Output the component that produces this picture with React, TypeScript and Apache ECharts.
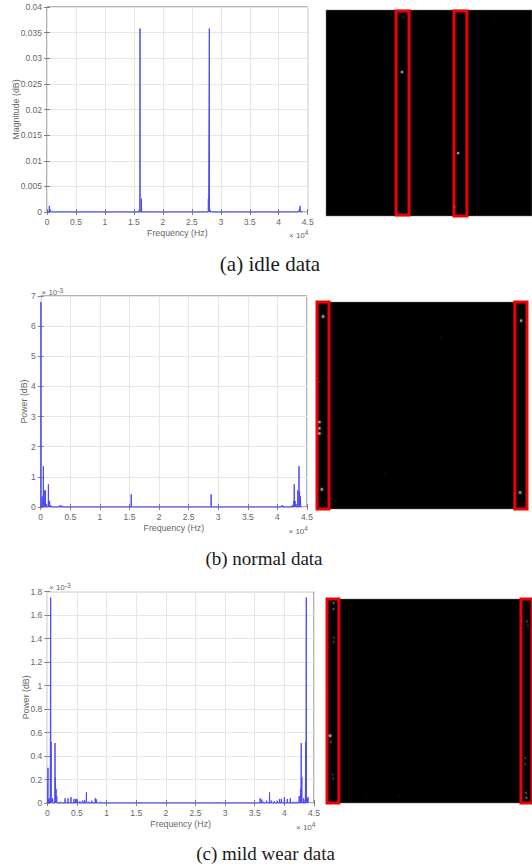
import React, { useEffect, useRef } from "react";
import * as echarts from "echarts";

const idlePeaks = [[400,0.0012],[550,0.0005],[700,0.0002],[1000,0.0001],[15850,0.0003],[16050,0.0358],[16300,0.0026],[27850,0.0026],[28020,0.0358],[28200,0.0003],[43400,0.0002],[43550,0.0005],[43700,0.0012]];
const normalPeaks = [[40,6.8],[250,0.35],[450,1.35],[600,0.55],[800,0.55],[1000,0.1],[1300,0.75],[1400,0.2],[1500,0.2],[1700,0.06],[3200,0.05],[3400,0.05],[3600,0.04],[15300,0.42],[28800,0.42],[40700,0.05],[40900,0.05],[42500,0.06],[42750,0.2],[42850,0.75],[43000,0.2],[43150,0.1],[43450,0.55],[43650,1.35],[43750,0.5],[43900,0.35]];
const wearPeaks = [[120,0.3],[300,0.04],[450,0.03],[570,1.75],[640,0.52],[750,0.03],[900,0.04],[1300,0.51],[1370,0.22],[1480,0.12],[1600,0.06],[2200,0.01],[3000,0.04],[3500,0.04],[4000,0.05],[4500,0.035],[4800,0.035],[5000,0.035],[5500,0.015],[6000,0.02],[6300,0.025],[6600,0.09],[7000,0.01],[7500,0.02],[8100,0.04],[8300,0.03],[9000,0.01],[11300,0.005],[15500,0.008],[28800,0.008],[33800,0.005],[35900,0.04],[36200,0.03],[36500,0.01],[37000,0.02],[37500,0.09],[37800,0.02],[38300,0.015],[38800,0.02],[39200,0.035],[39500,0.035],[40000,0.05],[40500,0.035],[41000,0.04],[41500,0.01],[42000,0.01],[42500,0.06],[42750,0.12],[42850,0.51],[42950,0.22],[43200,0.04],[43500,0.03],[43600,0.52],[43700,1.75],[43850,0.04],[44000,0.05]];

const idleDots = [[36.9,30.1,2.5,0.75],[37.6,3.4,1.5,0.25],[64.1,69.4,2.5,0.75],[62.5,95.5,1.5,0.3]];
const normalDots = [[2.9,7,3,0.65],[1.2,38.5,1.5,0.3],[1.2,58,2.5,0.8],[1.2,61,2.5,0.8],[1.2,63.5,2.5,0.8],[2.3,90.5,3,0.6],[97.2,9,2.5,0.7],[96.7,92,3,0.6],[59,17,1,0.2],[32,83,1,0.2]];
const wearDots = [[3.2,2,2,0.45],[3.2,5,2,0.4],[3.3,19,2,0.25],[3.3,21,2,0.25],[1.5,67,3,0.7],[1.8,70,2,0.35],[2.8,86,1.5,0.35],[3,88,1.5,0.4],[97.5,11,2,0.3],[98,13,1.5,0.3],[96.7,78,2,0.25],[96.7,81,2,0.25],[97,95,2,0.35],[97.3,97.5,2,0.45],[50,2,1,0.15],[35,97,1,0.2]];

const idleBoxes = [[34,0.5,40.3,99.5],[62.1,0.5,68.4,100.5]];
const normalBoxes = [[0,0,5.7,100.5],[94.2,0,100,100.5]];
const wearBoxes = [[0,0,5.8,100],[94.6,0,100,100]];

const idleTicks = [0,0.005,0.01,0.015,0.02,0.025,0.03,0.035,0.04];
const freqMax = 45000;
const freqStep = 5000;

const FONT = "Liberation Sans";
const LABEL = "#666666";
const GRIDLINE = "#e6e6e6";
const FRAME = "#666";

function spikes(peaks: number[][]) {
  const out: number[][] = [[0, 0]];
  for (const [f, v] of peaks) {
    out.push([f - 35, 0], [f, v], [f + 35, 0]);
  }
  out.push([44100, 0]);
  return out;
}

function axesFor(i: number, yMax: number, yStep: number, yName: string, yGap: number, yFmt: (v: number) => string) {
  const tick = { show: true, inside: true, length: 3, lineStyle: { color: FRAME, width: 0.8 } };
  const x = {
    type: "value", gridIndex: i, min: 0, max: freqMax, interval: freqStep,
    axisLine: { show: false }, axisTick: tick,
    axisLabel: { color: LABEL, fontFamily: FONT, fontSize: 8.5, margin: 5, formatter: (v: number) => String(v / 10000) },
    splitLine: { show: true, lineStyle: { color: GRIDLINE, width: 1 } },
    name: "Frequency (Hz)", nameLocation: "middle", nameGap: 16, nameMoveOverlap: false,
    nameTextStyle: { color: LABEL, fontFamily: FONT, fontSize: 8.8 },
  };
  const y = {
    type: "value", gridIndex: i, min: 0, max: yMax, interval: yStep,
    axisLine: { show: false }, axisTick: tick,
    axisLabel: { color: LABEL, fontFamily: FONT, fontSize: 8.5, margin: 5, formatter: yFmt },
    splitLine: { show: true, lineStyle: { color: GRIDLINE, width: 1 } },
    name: yName, nameLocation: "middle", nameGap: yGap, nameMoveOverlap: false,
    nameTextStyle: { color: LABEL, fontFamily: FONT, fontSize: 8.8 },
  };
  const x2 = { type: "value", gridIndex: i, position: "top", min: 0, max: freqMax, interval: freqStep, axisLine: { show: false }, axisTick: tick, axisLabel: { show: false }, splitLine: { show: false } };
  const y2 = { type: "value", gridIndex: i, position: "right", min: 0, max: yMax, interval: yStep, axisLine: { show: false }, axisTick: tick, axisLabel: { show: false }, splitLine: { show: false } };
  return { x: [x, x2], y: [y, y2] };
}

function expText(x: number, y: number, exp: string) {
  return {
    type: "text", x, y,
    style: {
      text: "{a|\u00d7 10}{b|" + exp + "}",
      rich: {
        a: { fontFamily: FONT, fontSize: 8, fill: LABEL, color: LABEL },
        b: { fontFamily: FONT, fontSize: 6.5, fill: LABEL, color: LABEL, verticalAlign: "top", padding: [0, 0, 5, 0] },
      },
    },
  };
}

function caption(text: string, x: number, y: number, size: number) {
  return { type: "text", x, y, style: { text, fontFamily: "Liberation Serif", fontSize: size, fill: "#1a1a1a", textAlign: "center", textVerticalAlign: "middle" } };
}

export default function App() {
  const ref = useRef<HTMLDivElement>(null);
  useEffect(() => {
    const chart = echarts.init(ref.current!, undefined, { renderer: "svg" });
    const plots = [
      { grid: { left: 47, top: 7, width: 260.7, height: 205 }, ax: axesFor(0, 0.04, 0.005, "Magnitude (dB)", 27, (v) => { const t = idleTicks.find((k) => Math.abs(k - v) < 1e-6); return String(t ?? v); }), peaks: idlePeaks },
      { grid: { left: 40.7, top: 296, width: 266.3, height: 211 }, ax: axesFor(1, 7, 1, "Power (dB)", 12, (v) => String(v)), peaks: normalPeaks },
      { grid: { left: 47.3, top: 591.7, width: 266.7, height: 211.3 }, ax: axesFor(2, 1.8, 0.2, "Power (dB)", 17, (v) => String(Math.round(v * 10) / 10)), peaks: wearPeaks },
    ];
    const panels = [
      { grid: { left: 326, top: 10, width: 206, height: 206 }, dots: idleDots, boxes: idleBoxes },
      { grid: { left: 317, top: 302, width: 210, height: 207 }, dots: normalDots, boxes: normalBoxes },
      { grid: { left: 327, top: 599, width: 205, height: 204 }, dots: wearDots, boxes: wearBoxes },
    ];
    const grids: any[] = plots.map((p) => ({ ...p.grid, show: true, borderColor: FRAME, borderWidth: 1, backgroundColor: "#fff" }));
    panels.forEach((p) => grids.push({ ...p.grid, show: true, backgroundColor: "#000", borderColor: "#777", borderWidth: 0.5 }));

    const xAxis: any[] = [];
    const yAxis: any[] = [];
    plots.forEach((p) => { xAxis.push(p.ax.x[0]); yAxis.push(p.ax.y[0]); });
    panels.forEach((_, k) => {
      xAxis.push({ type: "value", gridIndex: 3 + k, min: 0, max: 100, show: false });
      yAxis.push({ type: "value", gridIndex: 3 + k, min: 0, max: 100, inverse: true, show: false });
    });
    plots.forEach((p) => { xAxis.push(p.ax.x[1]); yAxis.push(p.ax.y[1]); });

    const series: any[] = [];
    plots.forEach((p, i) => series.push({
      type: "line", xAxisIndex: i, yAxisIndex: i, data: spikes(p.peaks), showSymbol: false, symbol: "none", clip: false,
      lineStyle: { color: "#4a4af8", width: 1 }, silent: true,
    }));
    panels.forEach((p, k) => series.push({
      type: "scatter", xAxisIndex: 3 + k, yAxisIndex: 3 + k, silent: true,
      data: p.dots.map((d) => ({ value: [d[0], d[1]], symbolSize: d[2], itemStyle: { color: "#ccc", opacity: d[3], shadowBlur: 3, shadowColor: "#999" } })),
      markArea: {
        silent: true,
        itemStyle: { color: "rgba(0,0,0,0)", borderColor: "#f00000", borderWidth: 3 },
        label: { show: false },
        data: p.boxes.map((b) => [{ coord: [b[0], b[1]] }, { coord: [b[2], b[3]] }]),
      },
    }));

    chart.setOption({
      animation: false,
      backgroundColor: "#fff",
      grid: grids,
      xAxis,
      yAxis,
      series,
      graphic: [
        expText(289, 229, "4"),
        expText(288.5, 525, "4"),
        expText(296, 821, "4"),
        expText(41.5, 286.5, "-3"),
        expText(49, 581.5, "-3"),
        caption("(a) idle data", 270, 264, 21),
        caption("(b) normal data", 264, 558, 19),
        caption("(c) mild wear data", 265.5, 853, 19),
      ],
    });
    return () => chart.dispose();
  }, []);
  return <div ref={ref} style={{ position: "absolute", left: 0, top: 0, width: 532, height: 866 }} />;
}
